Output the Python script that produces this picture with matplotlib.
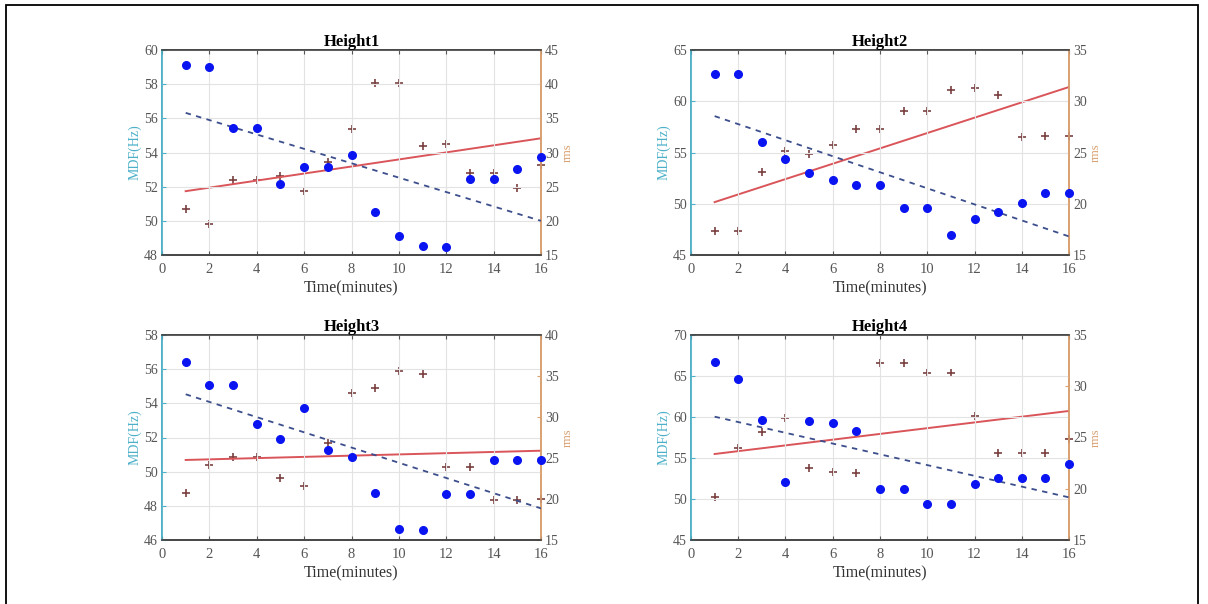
import numpy as np
import matplotlib
matplotlib.use("Agg")
import matplotlib.pyplot as plt
from matplotlib.patches import Rectangle

plt.rcParams['font.family'] = ['Liberation Serif', 'DejaVu Serif']

minutes = list(range(1, 17))
titles = ["Height1", "Height2", "Height3", "Height4"]

mdf_h1 = [59.13, 59.0, 55.45, 55.45, 52.18, 53.15, 53.15, 53.83, 50.54, 49.12, 48.54, 48.45, 52.47, 52.47, 53.05, 53.71]
rms_h1 = [21.68, 19.5, 26.04, 26.04, 26.5, 24.34, 28.55, 33.39, 40.16, 40.16, 30.97, 31.2, 27.0, 27.0, 24.83, 28.21]

mdf_h2 = [62.68, 62.68, 56.0, 54.35, 53.0, 52.35, 51.87, 51.87, 49.61, 49.61, 46.94, 48.48, 49.19, 50.1, 51.06, 51.06]
rms_h2 = [17.35, 17.35, 23.1, 25.19, 24.87, 25.74, 27.26, 27.26, 29.03, 29.03, 31.06, 31.29, 30.65, 26.48, 26.65, 26.65]

mdf_h3 = [56.44, 55.07, 55.07, 52.79, 51.89, 53.71, 51.27, 50.84, 48.73, 46.66, 46.59, 48.69, 48.69, 50.68, 50.68, 50.68]
rms_h3 = [20.77, 24.15, 25.08, 25.16, 22.6, 21.59, 26.79, 32.97, 33.58, 35.61, 35.24, 23.86, 23.86, 19.88, 19.88, 19.96]

mdf_h4 = [66.67, 64.67, 59.63, 52.07, 59.55, 59.23, 58.33, 51.18, 51.18, 49.35, 49.35, 51.79, 52.52, 52.6, 52.52, 54.27]
rms_h4 = [19.16, 23.94, 25.5, 26.87, 22.06, 21.6, 21.5, 32.24, 32.24, 31.33, 31.33, 27.13, 23.52, 23.52, 23.52, 24.82]

# trend lines (values at first and last minute)
trend_x = [1, 16]
mdf_trend = [[56.32, 50.0], [58.55, 46.81], [54.53, 47.85], [60.04, 50.2]]
rms_trend = [[24.34, 32.08], [20.16, 31.39], [24.76, 25.89], [23.39, 27.59]]

left_limits = [(48, 60), (45, 65), (46, 58), (45, 70)]
left_steps = [2, 5, 2, 5]
right_limits = [(15, 45), (15, 35), (15, 40), (15, 35)]
right_steps = [5, 5, 5, 5]

mdf_all = [mdf_h1, mdf_h2, mdf_h3, mdf_h4]
rms_all = [rms_h1, rms_h2, rms_h3, rms_h4]

W, H = 1208, 604
fig = plt.figure(figsize=(W / 100, H / 100), dpi=100)

# outer frame
fig.add_artist(Rectangle((6 / W, -0.05), 1192 / W, 1 - 5 / H + 0.05,
                         transform=fig.transFigure, fill=False,
                         edgecolor='black', linewidth=1.3, clip_on=False))

boxes = [(162, 50, 541, 255), (691, 50, 1069, 255),
         (162, 335, 541, 540), (691, 335, 1069, 540)]

left_col = '#4bb0c8'
right_col = '#d9a070'
tick_col = '#555555'
spine_col = '#444444'

for i in range(4):
    l, t, r, b = boxes[i]
    ax = fig.add_axes([l / W, 1 - b / H, (r - l) / W, (b - t) / H])
    ax2 = ax.twinx()

    ax.set_xlim(0, 16)
    ax.set_xticks(range(0, 17, 2))
    lo, hi = left_limits[i]
    ax.set_ylim(lo, hi)
    ax.set_yticks(np.arange(lo, hi + 0.1, left_steps[i]))
    rlo, rhi = right_limits[i]
    ax2.set_ylim(rlo, rhi)
    ax2.set_yticks(np.arange(rlo, rhi + 0.1, right_steps[i]))

    ax.grid(True, color='#e3e3e3', linewidth=0.8)
    ax.set_axisbelow(True)

    ax2.plot(minutes, rms_all[i], linestyle='none', marker='+', markersize=6,
             markeredgewidth=1.2, color='#7a4040', zorder=3, clip_on=False)
    ax2.plot(trend_x, rms_trend[i], color='#d9555a', linewidth=1.4, zorder=4)
    ax.plot(trend_x, mdf_trend[i], color='#3c4e8c', linewidth=1.3,
            linestyle=(0, (3, 3)), zorder=3)
    ax.plot(minutes, mdf_all[i], linestyle='none', marker='o', markersize=5.5,
            color='#0a14f0', zorder=5, clip_on=False)
    ax.set_zorder(ax2.get_zorder() + 1)
    ax.patch.set_visible(False)

    ax.set_title(titles[i], fontsize=12, fontweight='bold', pad=3)
    ax.set_xlabel('Time(minutes)', fontsize=11.5, color='#333333', labelpad=3)
    ax.set_ylabel('MDF(Hz)', fontsize=10, color=left_col, labelpad=2)
    ax2.set_ylabel('rms', fontsize=9, color=right_col, labelpad=2)

    for a in (ax, ax2):
        for s in a.spines.values():
            s.set_color(spine_col)
            s.set_linewidth(1.2)
    ax.spines['left'].set_color(left_col)
    ax2.spines['left'].set_color(left_col)
    ax.spines['right'].set_color(right_col)
    ax2.spines['right'].set_color(right_col)

    ax.tick_params(axis='x', direction='in', top=True, colors=tick_col,
                   labelsize=10.5, length=3, pad=6)
    ax.tick_params(axis='y', direction='in', colors=left_col,
                   labelcolor=tick_col, labelsize=10, length=3, pad=3)
    ax2.tick_params(axis='y', direction='in', colors=right_col,
                    labelcolor=tick_col, labelsize=10, length=3, pad=3)

fig.savefig('out.png', dpi=100)
